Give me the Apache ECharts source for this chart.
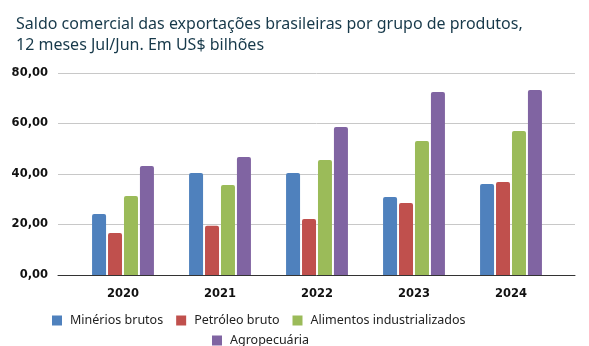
<!DOCTYPE html>
<html><head><meta charset="utf-8">
<script src="https://cdn.jsdelivr.net/npm/echarts@6/dist/echarts.min.js"></script>
<style>html,body{margin:0;padding:0;background:#fff}#c{width:589px;height:346px}</style>
</head><body><div id="c"></div>
<script>
const categories = ['2020', '2021', '2022', '2023', '2024'];
const minerios = [24.2, 40.4, 40.4, 30.9, 36.0];
const petroleo = [16.6, 19.5, 22.2, 28.5, 36.8];
const alimentos = [31.3, 35.6, 45.5, 53.1, 57.0];
const agro = [43.2, 46.7, 58.6, 72.5, 73.3];
const seriesNames = ['Minérios brutos', 'Petróleo bruto', 'Alimentos industrializados', 'Agropecuária'];
const colors = ['#4F81BD', '#C0504D', '#9BBB59', '#8064A2'];
const title = 'Saldo comercial das exportações brasileiras por grupo de produtos,\n12 meses Jul/Jun. Em US$ bilhões';

const chart = echarts.init(document.getElementById('c'), null, {renderer: 'canvas'});
const font = '"Noto Sans", "Open Sans", sans-serif';
const bar = (name, data, i) => ({
  name, type: 'bar', data, xAxisIndex: 1, yAxisIndex: 1,
  barWidth: 14, barGap: '14%',
  itemStyle: {color: colors[i], borderRadius: [2, 2, 0, 0]}
});
const legendText = {fontFamily: font, fontSize: 12.5, color: '#222', padding: [0, 0, 0, 3]};
chart.setOption({
  animation: false,
  title: {
    text: title, left: 11, top: 9,
    textStyle: {fontFamily: font, fontSize: 16, fontWeight: 'normal', color: '#17394A', lineHeight: 21}
  },
  legend: [
    {data: seriesNames.slice(0, 3), top: 309, left: 47, itemWidth: 10, itemHeight: 10, itemGap: 13,
     icon: 'rect', textStyle: legendText},
    {data: seriesNames.slice(3), top: 329, left: 207, itemWidth: 10, itemHeight: 10,
     icon: 'rect', textStyle: legendText}
  ],
  grid: [
    {left: 58, right: 14, top: 73, bottom: 71},
    {left: 74.5, right: 29.5, top: 73, bottom: 71}
  ],
  xAxis: [
    {type: 'category', gridIndex: 0, data: [''], axisLine: {lineStyle: {color: '#333', width: 1}},
     axisTick: {show: false}, axisLabel: {show: false}},
    {type: 'category', gridIndex: 1, data: categories, axisLine: {show: false}, axisTick: {show: false},
     axisLabel: {fontFamily: '"DejaVu Sans", sans-serif', fontWeight: 'bold', fontSize: 11.5, color: '#111', margin: 13}}
  ],
  yAxis: [
    {type: 'value', gridIndex: 0, min: 0, max: 80, interval: 20,
     axisLine: {show: false}, axisTick: {show: false},
     splitLine: {lineStyle: {color: '#C8C8C8', width: 1}},
     axisLabel: {fontFamily: '"DejaVu Sans", sans-serif', fontWeight: 'bold', fontSize: 11.5, color: '#111', margin: 10,
       formatter: v => v.toFixed(2).replace('.', ',')}},
    {type: 'value', gridIndex: 1, min: 0, max: 80, interval: 20, show: false, splitLine: {show: false}}
  ],
  series: [
    bar(seriesNames[0], minerios, 0),
    bar(seriesNames[1], petroleo, 1),
    bar(seriesNames[2], alimentos, 2),
    bar(seriesNames[3], agro, 3)
  ]
});
</script></body></html>
